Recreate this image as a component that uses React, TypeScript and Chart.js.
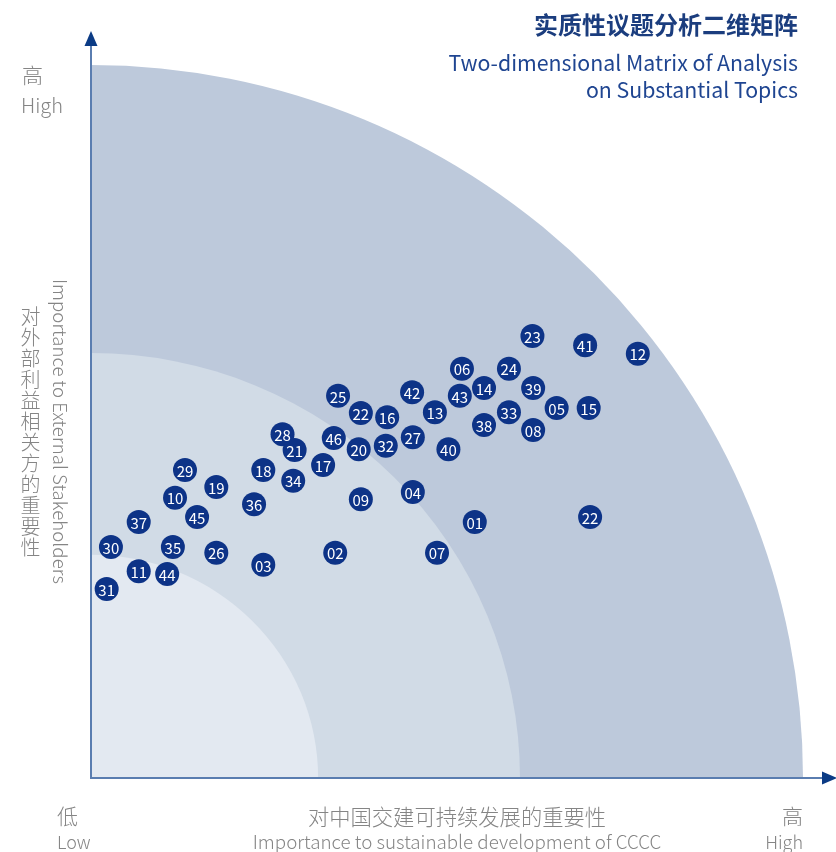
import React, { useEffect, useRef } from "react";
import { Chart, registerables } from "chart.js";

Chart.register(...registerables);

// ---- data ----
const topicIds = [
  "23", "41", "12", "06", "24", "14", "39", "43", "42", "25",
  "22", "16", "13", "05", "15", "33", "38", "08", "28", "46",
  "27", "21", "20", "32", "40", "17", "29", "18", "34", "19",
  "10", "09", "04", "36", "45", "37", "01", "22", "30", "35",
  "26", "02", "07", "03", "11", "44", "31",
];
// importance to sustainable development of CCCC (0-100)
const xValues = [
  62.0, 69.4, 76.8, 52.1, 58.7, 55.2, 62.1, 51.8, 45.1, 34.7,
  37.9, 41.6, 48.3, 65.4, 69.9, 58.7, 55.2, 62.1, 26.9, 34.1,
  45.2, 28.6, 37.6, 41.4, 50.2, 32.6, 13.2, 24.2, 28.4, 17.6,
  11.8, 37.9, 45.2, 22.9, 14.9, 6.7, 53.9, 70.1, 2.8, 11.5,
  17.6, 34.3, 48.6, 24.2, 6.7, 10.7, 2.2,
];
// importance to external stakeholders (0-100)
const yValues = [
  62.0, 60.7, 59.5, 57.4, 57.4, 54.7, 54.7, 53.6, 54.1, 53.6,
  51.2, 50.6, 51.3, 51.9, 51.9, 51.3, 49.5, 48.8, 48.2, 47.7,
  47.8, 46.0, 46.1, 46.6, 46.1, 43.9, 43.2, 43.2, 41.7, 40.8,
  39.3, 39.1, 40.1, 38.4, 36.6, 35.9, 35.9, 36.6, 32.4, 32.4,
  31.6, 31.6, 31.6, 29.9, 29.0, 28.6, 26.5,
];
// quarter-circle zones (outer → inner)
const zoneRadiusX = [100, 60.25, 31.9];
const zoneRadiusY = [100, 59.6, 31.3];
const zoneColors = ["#bdc9db", "#d1dbe6", "#e3e9f1"];

const NAVY = "#0d3387";
const FONT = '"Noto Sans CJK SC", "Noto Sans", sans-serif';

const zonesPlugin = {
  id: "zones",
  beforeDatasetsDraw(chart: any) {
    const { ctx, scales } = chart;
    const xs = scales.x;
    const ys = scales.y;
    const ox = xs.getPixelForValue(0);
    const oy = ys.getPixelForValue(0);
    ctx.save();
    zoneRadiusX.forEach((rx, i) => {
      const px = xs.getPixelForValue(rx) - ox;
      const py = oy - ys.getPixelForValue(zoneRadiusY[i]);
      ctx.beginPath();
      ctx.moveTo(ox, oy);
      ctx.ellipse(ox, oy, px, py, 0, -Math.PI / 2, 0);
      ctx.closePath();
      ctx.fillStyle = zoneColors[i];
      ctx.fill();
    });
    // axes
    ctx.strokeStyle = "#5a7db0";
    ctx.lineWidth = 2;
    ctx.beginPath();
    ctx.moveTo(ox, oy + 1);
    ctx.lineTo(ox, 46);
    ctx.moveTo(ox - 1, oy);
    ctx.lineTo(823, oy);
    ctx.stroke();
    ctx.fillStyle = "#0b3b85";
    ctx.beginPath();
    ctx.moveTo(ox, 31);
    ctx.lineTo(ox + 6.5, 46);
    ctx.lineTo(ox - 6.5, 46);
    ctx.closePath();
    ctx.fill();
    ctx.beginPath();
    ctx.moveTo(837, oy);
    ctx.lineTo(822, oy - 6.5);
    ctx.lineTo(822, oy + 6.5);
    ctx.closePath();
    ctx.fill();
    ctx.restore();
  },
  afterDatasetsDraw(chart: any) {
    const { ctx } = chart;
    const meta = chart.getDatasetMeta(0);
    ctx.save();
    ctx.fillStyle = "#ffffff";
    ctx.font = `15px ${FONT}`;
    ctx.textAlign = "center";
    ctx.textBaseline = "middle";
    meta.data.forEach((el: any, i: number) => {
      ctx.fillText(topicIds[i], el.x, el.y + 1);
    });
    ctx.restore();
  },
};

export default function App() {
  const ref = useRef<HTMLCanvasElement | null>(null);
  useEffect(() => {
    if (!ref.current) return;
    const points = xValues.map((x, i) => ({ x, y: yValues[i] }));
    const chart = new Chart(ref.current, {
      type: "scatter",
      data: {
        datasets: [
          {
            data: points,
            pointRadius: 12,
            pointHoverRadius: 12,
            backgroundColor: NAVY,
            borderColor: NAVY,
            borderWidth: 0,
          },
        ],
      },
      options: {
        responsive: false,
        animation: false,
        layout: { padding: { left: 91, right: 33, top: 65, bottom: 74 } },
        scales: {
          x: { type: "linear", min: 0, max: 100, display: false },
          y: { type: "linear", min: 0, max: 100, display: false },
        },
        plugins: { legend: { display: false }, tooltip: { enabled: false } },
      },
      plugins: [zonesPlugin],
    });
    return () => chart.destroy();
  }, []);

  const gray = "#858585";
  const base: React.CSSProperties = {
    position: "absolute",
    fontFamily: FONT,
    color: gray,
    fontWeight: 300,
    whiteSpace: "nowrap",
    margin: 0,
  };

  return (
    <div style={{ position: "fixed", left: 0, top: 0, width: 836, height: 852, background: "#fff", overflow: "hidden" }}>
      <canvas ref={ref} width={836} height={852} style={{ position: "absolute", left: 0, top: 0, width: 836, height: 852 }} />
      {/* title */}
      <div style={{ ...base, right: 38, top: 12, fontSize: 24, lineHeight: "24px", fontWeight: 700, color: "#1b3d7e", textAlign: "right" }}>
        实质性议题分析二维矩阵
      </div>
      <div style={{ ...base, right: 38, top: 48, fontSize: 21.3, lineHeight: "27px", fontWeight: 400, color: "#1f4591", textAlign: "right" }}>
        Two-dimensional Matrix of Analysis
        <br />
        on Substantial Topics
      </div>
      {/* y axis ends */}
      <div style={{ ...base, left: 22, top: 64, fontSize: 21, lineHeight: "21px" }}>高</div>
      <div style={{ ...base, left: 21, top: 95, fontSize: 20, lineHeight: "20px" }}>High</div>
      {/* y axis titles */}
      <div style={{ ...base, left: 20, top: 232, height: 400, fontSize: 20, lineHeight: "20px", writingMode: "vertical-rl", textAlign: "center", letterSpacing: 1 }}>
        对外部利益相关方的重要性
      </div>
      <div style={{ ...base, left: 52, top: 231, height: 400, fontSize: 18.7, lineHeight: "18px", writingMode: "vertical-rl", textAlign: "center" }}>
        Importance to External Stakeholders
      </div>
      {/* x axis ends & title */}
      <div style={{ ...base, left: 57, top: 805, fontSize: 21, lineHeight: "21px" }}>低</div>
      <div style={{ ...base, left: 57, top: 832, fontSize: 18, lineHeight: "18px" }}>Low</div>
      <div style={{ ...base, right: 33, top: 805, fontSize: 21, lineHeight: "21px", textAlign: "right" }}>高</div>
      <div style={{ ...base, right: 33, top: 832, fontSize: 18, lineHeight: "18px", textAlign: "right" }}>High</div>
      <div style={{ ...base, left: 157, width: 600, top: 805, fontSize: 21.3, lineHeight: "21px", textAlign: "center" }}>
        对中国交建可持续发展的重要性
      </div>
      <div style={{ ...base, left: 157, width: 600, top: 832, fontSize: 18.8, lineHeight: "18px", textAlign: "center" }}>
        Importance to sustainable development of CCCC
      </div>
    </div>
  );
}
